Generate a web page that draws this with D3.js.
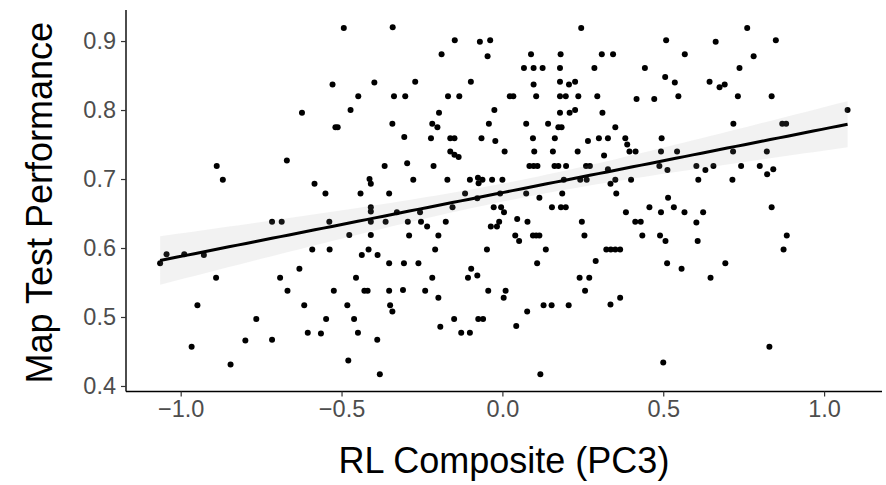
<!DOCTYPE html>
<html>
<head>
<meta charset="utf-8">
<script src="https://cdn.jsdelivr.net/npm/d3@7"></script>
<style>
  body { margin: 0; background: #fff; }
  svg { display: block; font-family: "Liberation Sans", Arial, sans-serif; }
</style>
</head>
<body>
<svg id="chart" width="886" height="485"></svg>
<script>
// RL composite (PC3) score per participant
const compositeScores = [
  -0.888, -0.869,
  -1.064, -1.044, -0.989, -0.928, -0.890, -0.948, -0.765, -0.966, -0.799, -0.845,
  -0.493, -0.341, -0.528, -0.398, -0.448, -0.337, -0.623, -0.472, -0.519, -0.512, -0.342, -0.670, -0.366, -0.413, -0.409, -0.584, -0.550, -0.441, -0.352,
  -0.716, -0.686, -0.409, -0.409, -0.538, -0.409, -0.363, -0.476, -0.409, -0.591, -0.537, -0.416, -0.437, -0.388, -0.352, -0.631, -0.691, -0.455, -0.668, -0.524, -0.429, -0.419, -0.352, -0.616, -0.482, -0.349, -0.342, -0.548, -0.461, -0.605, -0.564, -0.449, -0.716, -0.389, -0.479, -0.381,
  -0.148, -0.070, -0.038, -0.189, -0.046, -0.271, -0.098, -0.302, -0.169, -0.134, 0.023, 0.034, -0.197, -0.025, -0.218, -0.202, -0.042, -0.305, -0.222, -0.162, -0.149, -0.065, -0.022, -0.162, -0.149, -0.136, 0.007, -0.296, -0.214, -0.277, -0.171, -0.101, -0.076, -0.074, -0.062, -0.032, 0.000, -0.116, -0.078, -0.007,
  -0.328, -0.256, -0.155, -0.027, -0.004, 0.005, -0.294, -0.253, -0.234, -0.176, -0.010, -0.017, -0.036, 0.046, -0.290, -0.199, 0.040, 0.052, -0.209, -0.048, -0.306, -0.261, -0.097, -0.107, -0.078, -0.218, -0.309, -0.240, -0.199, -0.044, 0.010, 0.004, -0.150, -0.075, -0.060, -0.193, 0.043, -0.128, -0.101,
  0.245, 0.089, 0.181, 0.309, 0.344, 0.067, 0.097, 0.125, 0.179, 0.286, 0.443, 0.097, 0.179, 0.207, 0.226, 0.105, 0.179, 0.197, 0.236, 0.295, 0.417, 0.179, 0.209, 0.226, 0.311, 0.074, 0.142, 0.174, 0.184, 0.351, 0.095, 0.163, 0.266, 0.300, 0.328, 0.382, 0.388, 0.395, 0.414, 0.099, 0.157, 0.234, 0.316, 0.084, 0.097, 0.109, 0.162, 0.174, 0.198, 0.260, 0.272, 0.328, 0.191, 0.242, 0.262, 0.351, 0.336, 0.400, 0.074, 0.115, 0.186, 0.354,
  0.154, 0.182, 0.197, 0.078, 0.247, 0.384, 0.413, 0.430, 0.095, 0.105, 0.115, 0.255, 0.435, 0.135, 0.323, 0.337, 0.351, 0.366, 0.108, 0.290, 0.240, 0.270, 0.257, 0.077, 0.128, 0.153, 0.206, 0.336, 0.366, 0.118,
  0.761, 0.509, 0.663, 0.567, 0.781, 0.737, 0.506, 0.536, 0.644, 0.675, 0.691, 0.472, 0.547, 0.732, 0.837, 0.718, 0.495, 0.493, 0.543, 0.717, 0.822, 0.488, 0.513, 0.603, 0.631, 0.656, 0.742, 0.800, 0.823, 0.609, 0.715, 0.515,
  0.457, 0.493, 0.533, 0.566, 0.624, 0.603, 0.837, 0.490, 0.507, 0.607, 0.512, 0.557, 0.693, 0.647, 0.830, 0.500,
  0.850, 0.870, 0.882, 1.073, 0.842,
  0.884, 0.874
];

// map test performance (proportion correct), same order
const mapScores = [
  0.719, 0.699,
  0.578, 0.591, 0.591, 0.590, 0.557, 0.517, 0.497, 0.457, 0.466, 0.431,
  0.919, 0.920, 0.837, 0.840, 0.820, 0.820, 0.796, 0.800, 0.775, 0.775, 0.780, 0.727, 0.719, 0.700, 0.693, 0.693, 0.679, 0.679, 0.679,
  0.638, 0.638, 0.659, 0.653, 0.638, 0.638, 0.638, 0.619, 0.619, 0.598, 0.598, 0.598, 0.590, 0.590, 0.578, 0.570, 0.557, 0.557, 0.538, 0.538, 0.538, 0.538, 0.538, 0.517, 0.517, 0.517, 0.508, 0.497, 0.497, 0.477, 0.476, 0.477, 0.467, 0.467, 0.437, 0.417,
  0.901, 0.899, 0.901, 0.881, 0.878, 0.841, 0.841, 0.820, 0.820, 0.820, 0.820, 0.820, 0.796, 0.800, 0.780, 0.775, 0.780, 0.761, 0.759, 0.759, 0.759, 0.759, 0.755, 0.740, 0.735, 0.732, 0.740, 0.723, 0.719, 0.699, 0.699, 0.699, 0.702, 0.694, 0.699, 0.699, 0.699, 0.679, 0.672, 0.679,
  0.652, 0.652, 0.659, 0.659, 0.659, 0.652, 0.638, 0.638, 0.631, 0.638, 0.638, 0.631, 0.631, 0.642, 0.618, 0.618, 0.618, 0.610, 0.598, 0.598, 0.578, 0.578, 0.570, 0.557, 0.560, 0.557, 0.539, 0.538, 0.528, 0.538, 0.538, 0.528, 0.497, 0.497, 0.497, 0.486, 0.487, 0.477, 0.477,
  0.919, 0.881, 0.881, 0.881, 0.881, 0.861, 0.861, 0.861, 0.861, 0.861, 0.861, 0.837, 0.841, 0.837, 0.841, 0.820, 0.820, 0.820, 0.820, 0.820, 0.816, 0.796, 0.796, 0.800, 0.796, 0.780, 0.780, 0.775, 0.775, 0.775, 0.759, 0.759, 0.755, 0.759, 0.759, 0.759, 0.750, 0.740, 0.740, 0.740, 0.740, 0.740, 0.734, 0.719, 0.719, 0.719, 0.719, 0.719, 0.719, 0.719, 0.719, 0.714, 0.699, 0.699, 0.699, 0.699, 0.693, 0.699, 0.679, 0.673, 0.679, 0.679,
  0.659, 0.659, 0.659, 0.638, 0.638, 0.652, 0.638, 0.638, 0.618, 0.618, 0.618, 0.618, 0.618, 0.598, 0.598, 0.598, 0.598, 0.598, 0.578, 0.581, 0.557, 0.557, 0.538, 0.508, 0.517, 0.517, 0.517, 0.518, 0.528, 0.417,
  0.919, 0.901, 0.899, 0.881, 0.878, 0.861, 0.848, 0.840, 0.841, 0.833, 0.837, 0.816, 0.820, 0.820, 0.820, 0.780, 0.759, 0.740, 0.740, 0.740, 0.740, 0.719, 0.713, 0.719, 0.713, 0.719, 0.719, 0.719, 0.707, 0.699, 0.699, 0.673,
  0.659, 0.652, 0.659, 0.652, 0.652, 0.637, 0.659, 0.618, 0.610, 0.610, 0.578, 0.570, 0.578, 0.557, 0.457, 0.434,
  0.901, 0.780, 0.780, 0.800, 0.714,
  0.618, 0.598
];

const xTicks = [-1.0, -0.5, 0.0, 0.5, 1.0];
const yTicks = [0.4, 0.5, 0.6, 0.7, 0.8, 0.9];
const xTitle = 'RL Composite (PC3)';
const yTitle = 'Map Test Performance';

const points = compositeScores.map((x, i) => ({ x: x, y: mapScores[i] }));

const svg = d3.select('#chart');

const panel = { left: 126, right: 882, top: 10, bottom: 391.5 };

const xScale = d3.scaleLinear()
  .domain([-1.170, 1.180])
  .range([panel.left, panel.right]);

const yScale = d3.scaleLinear()
  .domain([0.392, 0.945])
  .range([panel.bottom, panel.top]);

// linear fit with 95% confidence band (like geom_smooth(method = 'lm'))
const n = points.length;
const xMean = d3.mean(points, d => d.x);
const yMean = d3.mean(points, d => d.y);
const sxx = d3.sum(points, d => (d.x - xMean) ** 2);
const sxy = d3.sum(points, d => (d.x - xMean) * (d.y - yMean));
const slope = sxy / sxx;
const intercept = yMean - slope * xMean;
const sse = d3.sum(points, d => (d.y - (intercept + slope * d.x)) ** 2);
const sigma = Math.sqrt(sse / (n - 2));
const tCrit = 1.968;

const [xMin, xMax] = d3.extent(points, d => d.x);
const fit = d3.range(81).map(i => {
  const x = xMin + (xMax - xMin) * i / 80;
  const yHat = intercept + slope * x;
  const se = sigma * Math.sqrt(1 / n + (x - xMean) ** 2 / sxx);
  return { x: x, y: yHat, lo: yHat - tCrit * se, hi: yHat + tCrit * se };
});

// points
svg.append('g')
  .selectAll('circle')
  .data(points)
  .enter()
  .append('circle')
    .attr('cx', d => xScale(d.x))
    .attr('cy', d => yScale(d.y))
    .attr('r', 3)
    .attr('fill', '#000');

// confidence band
svg.append('path')
  .datum(fit)
  .attr('d', d3.area()
    .x(d => xScale(d.x))
    .y0(d => yScale(d.lo))
    .y1(d => yScale(d.hi)))
  .attr('fill', '#999')
  .attr('fill-opacity', 0.13);

// fitted line
svg.append('path')
  .datum(fit)
  .attr('d', d3.line()
    .x(d => xScale(d.x))
    .y(d => yScale(d.y)))
  .attr('fill', 'none')
  .attr('stroke', '#000')
  .attr('stroke-width', 3);

// axes
const xAxis = svg.append('g')
  .attr('transform', 'translate(0,' + panel.bottom + ')')
  .call(d3.axisBottom(xScale)
    .tickValues(xTicks)
    .tickFormat(d3.format('.1f'))
    .tickSize(5)
    .tickPadding(4));

const yAxis = svg.append('g')
  .attr('transform', 'translate(' + panel.left + ',0)')
  .call(d3.axisLeft(yScale)
    .tickValues(yTicks)
    .tickFormat(d3.format('.1f'))
    .tickSize(5)
    .tickPadding(5));

[xAxis, yAxis].forEach((axis) => {
  axis.select('.domain')
    .attr('stroke', '#000')
    .attr('stroke-width', 1.4);
  axis.selectAll('.tick line')
    .attr('stroke', '#333')
    .attr('stroke-width', 1.2);
  axis.selectAll('.tick text')
    .attr('fill', '#4d4d4d')
    .style('font-size', '23.5px')
    .style('font-family', '"Liberation Sans", Arial, sans-serif');
});

// keep the domain lines plain (no outer end ticks)
xAxis.select('.domain').attr('d', 'M' + panel.left + ',0H' + panel.right);
yAxis.select('.domain').attr('d', 'M0,' + panel.bottom + 'V' + panel.top);

svg.append('text')
  .attr('x', (panel.left + panel.right) / 2)
  .attr('y', 473)
  .attr('text-anchor', 'middle')
  .style('font-size', '36px')
  .attr('fill', '#000')
  .text(xTitle);

svg.append('text')
  .attr('transform', 'translate(52,' + ((panel.top + panel.bottom) / 2 + 2) + ') rotate(-90)')
  .attr('text-anchor', 'middle')
  .style('font-size', '36px')
  .attr('fill', '#000')
  .text(yTitle);
</script>
</body>
</html>
